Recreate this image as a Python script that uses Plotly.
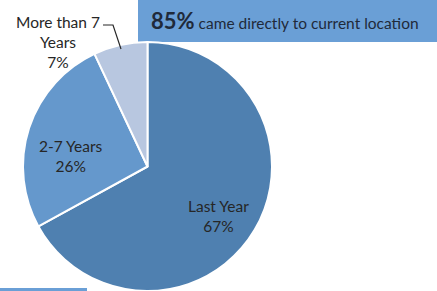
import plotly.graph_objects as go

categories = ["Last Year", "2-7 Years", "More than 7<br>Years"]
values = [67, 26, 7]
colors = ["#4F80B0", "#6598CC", "#B8C7E0"]
headline_pct = "85%"
headline_text = "came directly to current location"

W, H = 437, 291

def px(x):
    return x / W

def py(y):
    return (H - y) / H

fig = go.Figure()
fig.add_trace(go.Pie(
    labels=categories,
    values=values,
    sort=False,
    direction="clockwise",
    rotation=0,
    marker=dict(colors=colors, line=dict(color="white", width=2)),
    textinfo="none",
    hoverinfo="label+percent",
    showlegend=False,
    domain=dict(x=[px(23), px(272)], y=[py(291), py(42)]),
))

label_pos = [(218, 216), (71, 156), (58, 42)]
total = sum(values)
annotations = []
for cat, v, (x, y) in zip(categories, values, label_pos):
    annotations.append(dict(
        x=px(x), y=py(y), xref="paper", yref="paper",
        text=f"{cat}<br>{round(100 * v / total)}%",
        showarrow=False, xanchor="center", yanchor="middle",
        font=dict(family="Lato, Open Sans, sans-serif", size=15.5, color="#262626"),
        align="center",
    ))

annotations.append(dict(
    x=px(149), y=py(21), xref="paper", yref="paper",
    text=f"<b><span style='font-size:22px'>{headline_pct}</span></b> {headline_text}",
    showarrow=False, xanchor="left", yanchor="middle",
    font=dict(family="Lato, Open Sans, sans-serif", size=15.5, color="#1F2A3A"),
))

shapes = [
    dict(type="rect", xref="paper", yref="paper", x0=px(138), x1=1.0, y0=py(42), y1=1.0,
         fillcolor="#6A9FD6", line=dict(width=0), layer="below"),
    dict(type="rect", xref="paper", yref="paper", x0=0, x1=px(87), y0=0, y1=py(288),
         fillcolor="#6A9FD6", line=dict(width=0), layer="below"),
    dict(type="path", xref="paper", yref="paper",
         path=f"M {px(103)} {py(25)} L {px(113)} {py(25)} L {px(121)} {py(49)}",
         line=dict(color="#262626", width=1.2)),
]

fig.update_layout(
    width=W, height=H,
    margin=dict(l=0, r=0, t=0, b=0),
    paper_bgcolor="white",
    plot_bgcolor="white",
    annotations=annotations,
    shapes=shapes,
)

fig.write_html(
    "out.html",
    config={"displayModeBar": False},
    post_script="document.body.style.margin='0';document.body.style.overflow='hidden';",
)
